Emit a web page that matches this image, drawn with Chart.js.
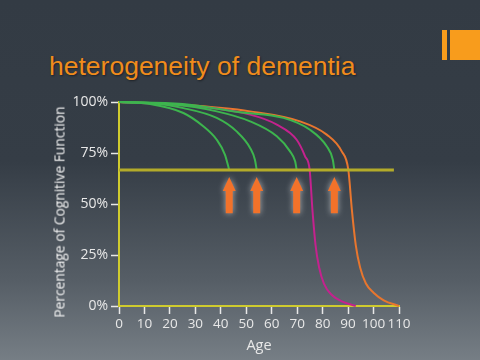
<!DOCTYPE html>
<html>
<head>
<meta charset="utf-8">
<script src="https://cdn.jsdelivr.net/npm/chart.js@4/dist/chart.umd.min.js"></script>
<style>
  html, body { margin: 0; padding: 0; }
  body {
    width: 480px; height: 360px; overflow: hidden; position: relative;
    background: linear-gradient(to bottom, #333b44 0%, #353d46 45%, #565e66 78%, #767e85 100%);
  }
  #title {
    position: absolute; left: 49px; top: 51px;
    font: 26.5px "Liberation Sans", Arial, sans-serif; line-height: 30px;
    color: #f08c1c; text-shadow: 1px 1px 2px rgba(0,0,0,0.45);
    white-space: nowrap;
  }
  #ytitle {
    position: absolute; left: 59px; top: 212px;
    transform: translate(-50%, -50%) rotate(-90deg);
    font: 13.8px "Open Sans", sans-serif; color: #f2f2f2;
    white-space: nowrap;
  }
  .tab { position: absolute; top: 30px; height: 30px; background: #f89c1c; }
  #chart { position: absolute; left: 0; top: 0; }
</style>
</head>
<body>
<div id="title">heterogeneity of dementia</div>
<div class="tab" style="left:442px;width:5px"></div>
<div class="tab" style="left:450px;width:30px"></div>
<canvas id="chart" width="480" height="360"></canvas>
<div id="ytitle">Percentage of Cognitive Function</div>
<script>
// values (age in years, % of cognitive function)
const green1Ages = [0, 12.2, 25.3, 33.1, 38.4, 41.6, 43.3];
const green1Values = [100, 99, 94.6, 88.1, 81.5, 74.2, 66.7];
const green2Ages = [0, 12, 25.3, 38.4, 46.2, 51.5, 53.4, 54.1];
const green2Values = [100, 99.5, 97, 92.2, 85.6, 77.5, 71.7, 66.7];
const green3Ages = [0, 20, 38.4, 51.5, 62, 67.2, 69.2, 69.8];
const green3Values = [100, 99, 95.4, 90.5, 83.2, 75.8, 70.9, 66.7];
const green4Ages = [0, 25, 47.5, 64.6, 75, 81.6, 84, 84.6];
const green4Values = [100, 99, 95, 92.2, 86.4, 78.3, 71.7, 66.7];
const magentaAges = [0, 25, 51.5, 62, 69.8, 73.1, 74.9, 76, 77.2, 78.6, 80.5, 83.5, 88, 93];
const magentaValues = [100, 98.4, 93.8, 88.9, 81.5, 73.4, 66.7, 47, 30, 19, 11, 5.5, 2, 0];
const orangeAges = [0, 25, 51.5, 71.1, 81.6, 87.5, 90.1, 91.5, 93, 94.7, 97, 100, 104, 110];
const orangeValues = [100, 98.6, 95.4, 90.5, 84, 75.8, 66.7, 47, 30, 19, 11, 6.5, 2.8, 0];

const thresholdAges = [0, 108];
const thresholdValues = [66.7, 66.7];

const arrowAges = [43.3, 54.1, 69.8, 84.6];
const arrowTip = 63.2;
const arrowTail = 45.5;

const xTicks = [0, 10, 20, 30, 40, 50, 60, 70, 80, 90, 100, 110];
const yTicks = [0, 25, 50, 75, 100];

const toPoints = (ages, vals) => ages.map((a, i) => ({ x: a, y: vals[i] }));

const curve = (ages, vals, color) => ({
    data: toPoints(ages, vals),
    borderColor: color,
    borderWidth: 2,
    pointRadius: 0,
    cubicInterpolationMode: 'monotone',
    fill: false,
    clip: 6
});

const arrowPlugin = {
    id: 'arrows',
    afterDatasetsDraw(chart) {
        const { ctx, scales: { x, y } } = chart;
        const top = y.getPixelForValue(arrowTip);
        const bottom = y.getPixelForValue(arrowTail);
        ctx.save();
        ctx.fillStyle = '#f2722a';
        ctx.shadowColor = 'rgba(255,255,255,0.55)';
        ctx.shadowBlur = 6;
        arrowAges.forEach(age => {
            const cx = x.getPixelForValue(age);
            ctx.beginPath();
            ctx.moveTo(cx, top);
            ctx.lineTo(cx + 6.5, top + 14);
            ctx.lineTo(cx + 3.5, top + 14);
            ctx.lineTo(cx + 3.5, bottom);
            ctx.lineTo(cx - 3.5, bottom);
            ctx.lineTo(cx - 3.5, top + 14);
            ctx.lineTo(cx - 6.5, top + 14);
            ctx.closePath();
            ctx.fill();
        });
        ctx.restore();
    }
};

new Chart(document.getElementById('chart'), {
    type: 'line',
    data: {
        datasets: [
            { ...curve(thresholdAges, thresholdValues, '#b3ab2a'), borderWidth: 3, cubicInterpolationMode: 'default', tension: 0 },
            curve(green1Ages, green1Values, '#3db54e'),
            curve(green2Ages, green2Values, '#3db54e'),
            curve(green3Ages, green3Values, '#3db54e'),
            curve(green4Ages, green4Values, '#3db54e'),
            curve(magentaAges, magentaValues, '#c4228e'),
            curve(orangeAges, orangeValues, '#e8762e')
        ]
    },
    options: {
        responsive: false,
        animation: false,
        layout: { padding: { top: 102, right: 81, left: 0, bottom: 0 } },
        plugins: { legend: { display: false }, tooltip: { enabled: false } },
        scales: {
            x: {
                type: 'linear',
                min: 0,
                max: 110,
                afterFit: s => { s.height = 54; },
                afterBuildTicks: s => { s.ticks = xTicks.map(v => ({ value: v })); },
                grid: { drawOnChartArea: false, tickLength: 8, tickColor: '#e8e8e8', tickWidth: 1.5 },
                border: { color: '#cfcb2e', width: 2 },
                ticks: { color: '#e8e8e8', font: { family: '"Open Sans", sans-serif', size: 13.5 }, padding: 2, maxRotation: 0, autoSkip: false },
                title: {
                    display: true, text: 'Age', color: '#e8e8e8',
                    font: { family: '"Open Sans", sans-serif', size: 14.5 },
                    padding: { top: 0, bottom: 5 }
                }
            },
            y: {
                min: 0,
                max: 100,
                afterFit: s => { s.width = 119; },
                afterBuildTicks: s => { s.ticks = yTicks.map(v => ({ value: v })); },
                grid: { drawOnChartArea: false, tickLength: 8, tickColor: '#e8e8e8', tickWidth: 1.5 },
                border: { color: '#cfcb2e', width: 2 },
                ticks: { color: '#e8e8e8', font: { family: '"Open Sans", sans-serif', size: 14 }, padding: 3, callback: v => v + '%' }
            }
        }
    },
    plugins: [arrowPlugin]
});
</script>
</body>
</html>
